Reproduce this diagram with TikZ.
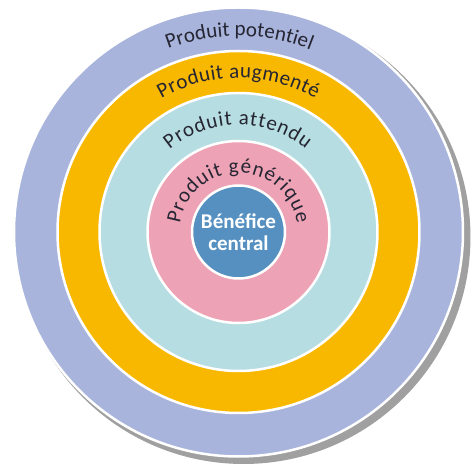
\documentclass[tikz,border=0pt]{standalone}
\usepackage{fontspec}
\setmainfont{Carlito}
\usetikzlibrary{decorations.text}
\definecolor{potentiel}{HTML}{A8B4DC}
\definecolor{augmente}{HTML}{F9B800}
\definecolor{attendu}{HTML}{B5DDE2}
\definecolor{generique}{HTML}{EDA2B5}
\definecolor{central}{HTML}{5590C1}
\definecolor{shadowgray}{HTML}{A0A0A0}
\definecolor{labelgray}{HTML}{262633}
\newcommand{\ringfont}{\fontsize{21}{24}\selectfont}
\begin{document}
\begin{tikzpicture}[x=1pt, y=1pt,
  ring/.style={circle, draw=white, line width=2.5pt, inner sep=0pt},
  ringlabel/.style={decorate, decoration={text along path, text align={fit to path}, text color=labelgray}}]
\useasboundingbox (-238.5,-233) rectangle (233.5,232);
% rings, from the outside in
\node[ring, draw=none, fill=shadowgray, minimum size=454pt] (shadow) at (5,-5) {};
\node[ring, fill=potentiel, minimum size=449pt] (potentiel) at (0,0) {};
\node[ring, fill=augmente, minimum size=362pt] (augmente) at (0,0) {};
\node[ring, fill=attendu, minimum size=278pt] (attendu) at (0,0) {};
\node[ring, fill=generique, minimum size=182pt] (generique) at (0,0) {};
\node[ring, fill=central, minimum size=93pt, text=white, align=center,
  font=\bfseries\fontsize{21}{22}\selectfont] (central) at (0,0) {Bénéfice\\central};
% curved labels
\path[ringlabel, decoration={text={|\ringfont|Produit potentiel}}] (111:196) arc[start angle=111, end angle=69, radius=196];
\path[ringlabel, decoration={text={|\ringfont|Produit augmenté}}] (120:154) arc[start angle=120, end angle=60, radius=154];
\path[ringlabel, decoration={text={|\ringfont|Produit attendu}}] (130:107) arc[start angle=130, end angle=51, radius=107];
\path[ringlabel, decoration={text={|\ringfont|Produit générique}}] (172:59) arc[start angle=172, end angle=8, radius=59];
\end{tikzpicture}
\end{document}
